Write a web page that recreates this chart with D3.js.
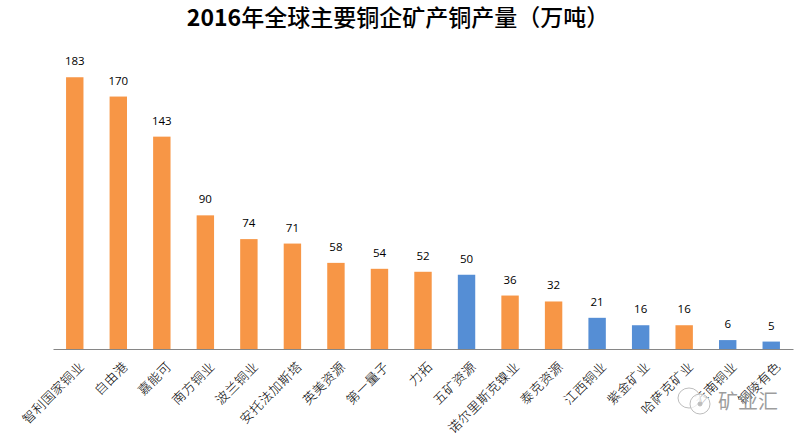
<!DOCTYPE html>
<html>
<head>
<meta charset="utf-8">
<script src="https://cdn.jsdelivr.net/npm/d3@7"></script>
<style>
    html, body { margin: 0; padding: 0; background: #fff; }
    svg { display: block; }
</style>
</head>
<body>
<div id="chart"></div>
<script>
const companies = ["智利国家铜业", "自由港", "嘉能可", "南方铜业", "波兰铜业", "安托法加斯塔", "英美资源", "第一量子", "力拓", "五矿资源", "诺尔里斯克镍业", "泰克资源", "江西铜业", "紫金矿业", "哈萨克矿业", "云南铜业", "铜陵有色"];
const output = [183, 170, 143, 90, 74, 71, 58, 54, 52, 50, 36, 32, 21, 16, 16, 6, 5];
// China-based companies are the blue bars
const chinese = ["五矿资源", "江西铜业", "紫金矿业", "云南铜业", "铜陵有色"];
const titleYear = "2016";
const titleRest = "年全球主要铜企矿产铜产量（万吨）";

drawChart();

function drawChart() {
    const svg = d3.select("#chart")
        .append("svg")
        .attr("width", 802)
        .attr("height", 436);

    const xScale = d3.scaleBand()
        .domain(companies)
        .range([53, 793])
        .paddingInner(0.6)
        .paddingOuter(0.3);

    const yScale = d3.scaleLinear()
        .domain([0, 200])
        .range([349, 52]);

    // Title, digits are heavier than the Chinese part in the original
    const title = svg.append("text")
        .attr("x", 398)
        .attr("y", 26)
        .attr("text-anchor", "middle")
        .style("font-family", "'Noto Sans CJK SC', sans-serif")
        .style("font-size", "23px")
        .attr("fill", "#000");

    title.append("tspan")
        .style("font-weight", "bold")
        .text(titleYear);

    title.append("tspan")
        .style("font-weight", "500")
        .text(titleRest);

    // Bars
    svg.selectAll(".bar")
        .data(companies)
        .enter()
        .append("rect")
        .attr("class", "bar")
        .attr("x", d => xScale(d))
        .attr("y", (d, i) => yScale(output[i]))
        .attr("width", xScale.bandwidth())
        .attr("height", (d, i) => yScale(0) - yScale(output[i]))
        .attr("fill", d => chinese.includes(d) ? "#558ed5" : "#f79646");

    // Value labels
    svg.selectAll(".value")
        .data(companies)
        .enter()
        .append("text")
        .attr("class", "value")
        .attr("x", d => xScale(d) + xScale.bandwidth() / 2)
        .attr("y", (d, i) => yScale(output[i]) - 12)
        .attr("text-anchor", "middle")
        .style("font-family", "'Open Sans', sans-serif")
        .style("font-size", "11.5px")
        .attr("fill", "#000")
        .text((d, i) => output[i]);

    // Axis, no ticks
    const axis = svg.append("g")
        .attr("transform", `translate(0,${yScale(0)})`)
        .call(d3.axisBottom(xScale).tickSize(0).tickPadding(14));

    axis.select(".domain")
        .attr("stroke", "#868686")
        .attr("stroke-width", 1);

    axis.selectAll("text")
        .style("font-family", "'Noto Sans CJK SC', sans-serif")
        .style("font-size", "13px")
        .style("font-weight", "300")
        .style("letter-spacing", "0.5px")
        .attr("fill", "#000")
        .style("text-anchor", "end")
        .attr("transform", "translate(-6,2) rotate(-45)");

    drawWatermark(svg);
}

// WeChat style mark and account name bottom right
function drawWatermark(svg) {
    const mark = svg.append("g")
        .attr("fill", "#fff")
        .attr("fill-opacity", 0.7)
        .attr("stroke", "#bdbdbd")
        .attr("stroke-width", 1);

    mark.append("ellipse").attr("cx", 689).attr("cy", 398).attr("rx", 11).attr("ry", 10);
    mark.append("circle").attr("cx", 700).attr("cy", 404).attr("r", 10);
    mark.append("circle").attr("cx", 700).attr("cy", 404).attr("r", 2).attr("fill", "#bdbdbd").attr("fill-opacity", 1);

    svg.append("text")
        .attr("x", 718)
        .attr("y", 409)
        .style("font-family", "'Noto Sans CJK SC', sans-serif")
        .style("font-size", "20px")
        .attr("fill", "#8c8c8c")
        .attr("fill-opacity", 0.85)
        .text("矿业汇");
}
</script>
</body>
</html>
